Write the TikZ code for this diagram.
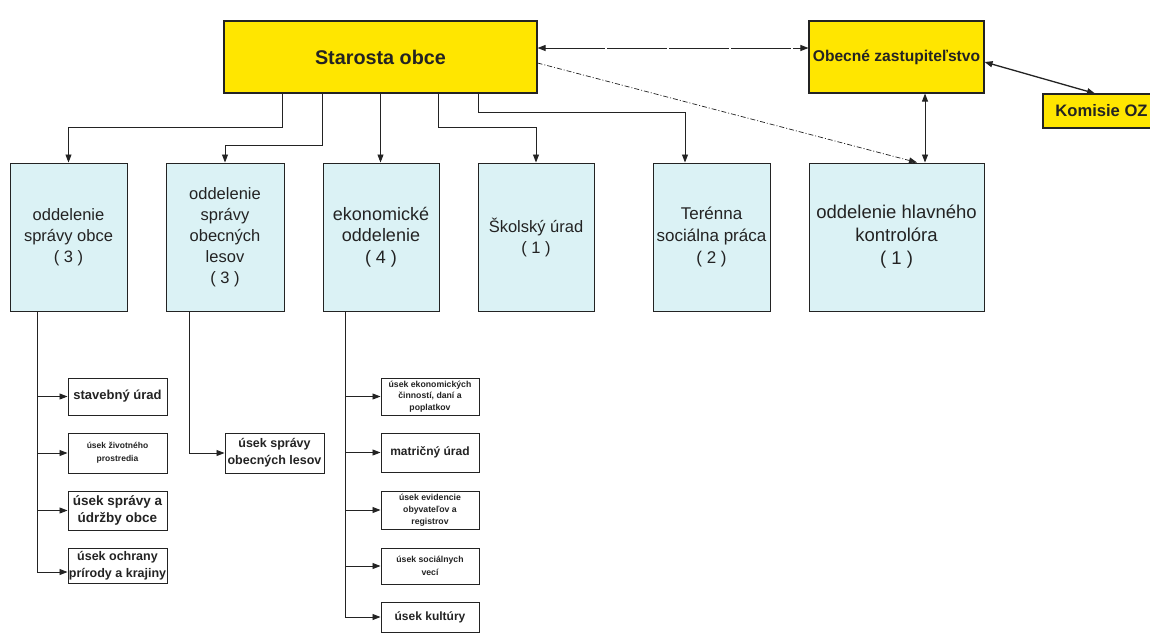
\documentclass[tikz,border=0pt]{standalone}
\usepackage{fontspec}
\setmainfont{Liberation Sans}
\usetikzlibrary{arrows.meta}
\definecolor{yel}{RGB}{255,230,0}
\definecolor{lblue}{RGB}{219,242,245}
\definecolor{ink}{RGB}{35,35,35}
\tikzset{
  ybox/.style={draw=ink, fill=yel, line width=1.1pt, inner sep=0pt, align=center, text=ink},
  bbox/.style={draw=ink, fill=lblue, line width=1pt, inner sep=0pt, minimum height=148pt, align=center, text=ink, font=\fontsize{16.5}{21}\selectfont},
  sbox/.style={draw=ink, fill=white, line width=1pt, inner sep=0pt, minimum width=99pt, align=center, text=ink},
  conn/.style={draw=ink, line width=0.9pt},
  tip/.tip={Triangle[length=8pt,width=6pt]},
  arr/.style={conn, -tip},
  darr/.style={conn, tip-tip},
}
\begin{document}
\begin{tikzpicture}[x=1pt,y=-1pt]
\useasboundingbox (0,0) rectangle (1150,633);
\fill[white] (0,0) rectangle (1150,633);

% top level
\node[ybox, minimum width=313pt, minimum height=72pt, font=\fontsize{19.8}{24}\selectfont\bfseries] (st) at (380.5,57) {Starosta obce};
\node[ybox, minimum width=175pt, minimum height=72pt, font=\fontsize{15.6}{19}\selectfont\bfseries] (oz) at (896.5,57) {Obecné zastupiteľstvo};
\node[ybox, minimum width=117pt, minimum height=34pt, font=\fontsize{16.6}{20}\selectfont\bfseries] (kom) at (1101.5,111) {Komisie OZ};

% departments
\node[bbox, minimum width=117pt] (d1) at (68.5,237) {oddelenie\\správy obce\\( 3 )};
\node[bbox, minimum width=118pt] (d2) at (225,237) {oddelenie\\správy\\obecných\\lesov\\( 3 )};
\node[bbox, minimum width=116pt, font=\fontsize{18}{21.5}\selectfont] (d3) at (381,237) {ekonomické\\oddelenie\\( 4 )};
\node[bbox, minimum width=116pt] (d4) at (536,237) {Školský úrad\\( 1 )};
\node[bbox, minimum width=117pt, font=\fontsize{17}{22}\selectfont] (d5) at (711.5,237) {Terénna\\sociálna práca\\( 2 )};
\node[bbox, minimum width=175pt, font=\fontsize{18.5}{23}\selectfont] (d6) at (896.5,237) {oddelenie hlavného\\kontrolóra\\( 1 )};

% sub-units of d1
\node[sbox, minimum height=37pt, font=\fontsize{13}{17}\selectfont\bfseries] (s1) at (117.5,396.5) {stavebný úrad};
\node[sbox, minimum height=40pt, font=\fontsize{8.5}{12.7}\selectfont\bfseries] (s2) at (117.5,453) {úsek životného\\prostredia};
\node[sbox, minimum height=39pt, font=\fontsize{13.5}{17}\selectfont\bfseries] (s3) at (117.5,510.5) {úsek správy a\\údržby obce};
\node[sbox, minimum height=35pt, font=\fontsize{12.5}{17}\selectfont\bfseries] (s4) at (117.5,565.5) {úsek ochrany\\prírody a krajiny};

% sub-unit of d2
\node[sbox, minimum height=40pt, font=\fontsize{12.5}{16.7}\selectfont\bfseries] (l1) at (274.5,453) {úsek správy\\obecných lesov};

% sub-units of d3
\node[sbox, minimum width=98pt, minimum height=37pt, font=\fontsize{8.7}{11.7}\selectfont\bfseries] (e1) at (430,396.5) {úsek ekonomických\\činností, daní a\\poplatkov};
\node[sbox, minimum width=98pt, minimum height=39pt, font=\fontsize{12}{15}\selectfont\bfseries] (e2) at (430,452.5) {matričný úrad};
\node[sbox, minimum width=98pt, minimum height=38pt, font=\fontsize{8.7}{12}\selectfont\bfseries] (e3) at (430,510) {úsek evidencie\\obyvateľov a\\registrov};
\node[sbox, minimum width=98pt, minimum height=36pt, font=\fontsize{8.7}{13.3}\selectfont\bfseries] (e4) at (430,566) {úsek sociálnych\\vecí};
\node[sbox, minimum width=98pt, minimum height=30pt, font=\fontsize{12}{15}\selectfont\bfseries] (e5) at (430,617) {úsek kultúry};

% connectors from Starosta
\draw[arr] ([xshift=59pt]st.south west) -- ++(0,34) -| (d1.north);
\draw[arr] ([xshift=99pt]st.south west) -- ++(0,52) -| (d2.north);
\draw[arr] (st.south) -- (st.south |- d3.north);
\draw[arr] ([xshift=215pt]st.south west) -- ++(0,34) -| (d4.north);
\draw[arr] ([xshift=255pt]st.south west) -- ++(0,19) -| ([xshift=-26.5pt]d5.north);

\draw[darr, dash pattern=on 60pt off 2pt] ([yshift=9pt]st.east) -- ([yshift=9pt]oz.west);
\draw[arr, line width=0.7pt, dash pattern=on 5pt off 2pt on 1pt off 2pt] ([yshift=-6pt]st.east) -- ([xshift=20.5pt]d6.north);
\draw[darr] ([xshift=28.5pt]oz.south) -- ([xshift=28.5pt]d6.north);
\draw[darr, line width=1.3pt] ([yshift=-5pt]oz.east) -- ([xshift=-6.5pt]kom.north);

% trunk of d1
\coordinate (t1) at (37,572);
\draw[conn] ([xshift=-31.5pt]d1.south) -- (t1);
\draw[arr] (t1 |- s1.west) -- (s1.west);
\draw[arr] (t1 |- s2.west) -- (s2.west);
\draw[arr] (t1 |- s3.west) -- (s3.west);
\draw[arr] (t1) -- (t1 -| s4.west);

% trunk of d2
\draw[arr] ([xshift=-36pt]d2.south) |- (l1.west);

% trunk of d3
\coordinate (t3) at (345,617);
\draw[conn] ([xshift=-36pt]d3.south) -- (t3);
\draw[arr] (t3 |- e1.west) -- (e1.west);
\draw[arr] (t3 |- e2.west) -- (e2.west);
\draw[arr] (t3 |- e3.west) -- (e3.west);
\draw[arr] (t3 |- e4.west) -- (e4.west);
\draw[arr] (t3) -- (e5.west);
\end{tikzpicture}
\end{document}
